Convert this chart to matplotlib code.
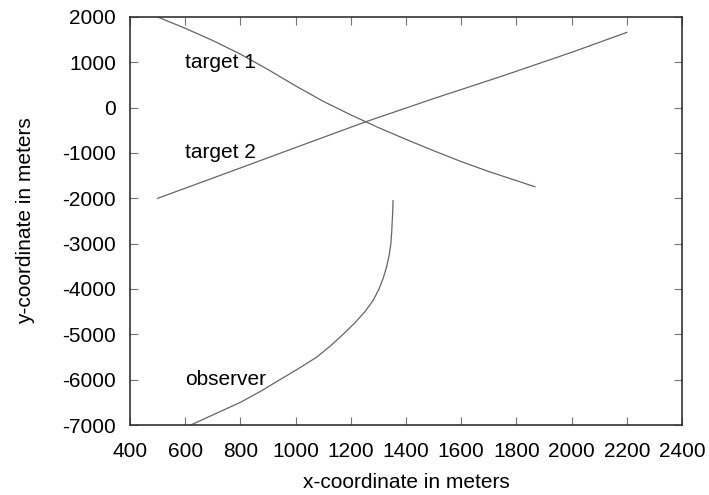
import matplotlib
matplotlib.use("Agg")
import matplotlib.pyplot as plt

# track data (meters)
target1_x = [500, 600, 700, 800, 900, 1000, 1100, 1200, 1300, 1400, 1500, 1600, 1700, 1800, 1867]
target1_y = [2000, 1750, 1480, 1180, 840, 480, 140, -160, -440, -700, -950, -1190, -1410, -1610, -1745]

target2_x = [500, 800, 1000, 1250, 1500, 1750, 2000, 2200]
target2_y = [-2000, -1330, -880, -320, 200, 700, 1220, 1660]

observer_x = [620, 710, 800, 875, 943, 1012, 1077, 1127, 1172, 1214, 1251, 1281,
              1302, 1318, 1330, 1339, 1345, 1348, 1350, 1352, 1353]
observer_y = [-7000, -6750, -6500, -6250, -6000, -5750, -5500, -5250, -5000, -4750, -4500, -4250,
              -4000, -3750, -3500, -3250, -3000, -2750, -2500, -2250, -2050]

labels = ["target 1", "target 2", "observer"]
label_pos = [(600, 1000), (600, -1000), (600, -6000)]

plt.rcParams.update({
    "font.family": ["Liberation Sans", "DejaVu Sans"],
    "font.size": 15,
    "axes.unicode_minus": False,
    "axes.linewidth": 1.2,
    "axes.edgecolor": "0.2",
    "xtick.direction": "in",
    "ytick.direction": "in",
    "xtick.top": True,
    "ytick.right": True,
    "xtick.major.size": 6,
    "ytick.major.size": 6,
    "xtick.major.width": 0.8,
    "ytick.major.width": 0.8,
    "xtick.color": "0.45",
    "ytick.color": "0.45",
    "xtick.labelcolor": "black",
    "ytick.labelcolor": "black",
})

fig = plt.figure(figsize=(7.09, 4.95), dpi=100)
ax = fig.add_axes([0.1834, 0.1414, 0.7786, 0.8243])

line_style = dict(color="0.4", linewidth=0.9)
ax.plot(target1_x, target1_y, **line_style)
ax.plot(target2_x, target2_y, **line_style)
ax.plot(observer_x, observer_y, **line_style)

for text, (tx, ty) in zip(labels, label_pos):
    ax.text(tx, ty, text, ha="left", va="center", fontsize=15)

ax.set_xlim(400, 2400)
ax.set_ylim(-7000, 2000)
ax.set_xticks(range(400, 2401, 200))
ax.set_yticks(range(-7000, 2001, 1000))
ax.tick_params(axis="x", pad=12)
ax.tick_params(axis="y", pad=10)

ax.set_xlabel("x-coordinate in meters", labelpad=9)
ax.set_ylabel("y-coordinate in meters", labelpad=20)

fig.savefig("out.png", dpi=100)
